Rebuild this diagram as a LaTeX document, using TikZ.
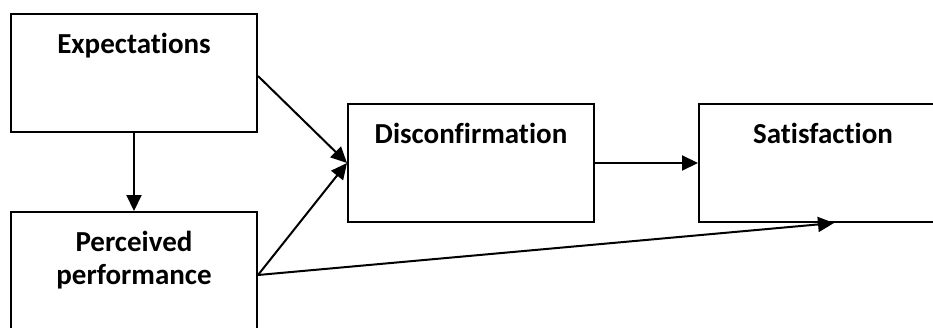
\documentclass[tikz,border=0pt]{standalone}
\usepackage{fontspec}
\setmainfont{Carlito}[Ligatures=NoCommon]
\usetikzlibrary{arrows.meta}
\begin{document}
\begin{tikzpicture}[x=1pt,y=-1pt,
  box/.style={draw=black,line width=2pt,minimum width=246pt,minimum height=118pt,inner sep=0pt,fill=white},
  title/.style={font=\bfseries\fontsize{29}{33}\selectfont,align=center,anchor=base,inner sep=0pt},
  link/.style={draw=black,line width=2pt,-{Triangle[length=16pt,width=15pt]}}]
\useasboundingbox (0,0) rectangle (933,327);
\clip (0,0) rectangle (933,327);
\fill[white] (0,0) rectangle (933,327);
% boxes
\node[box] (E) at (134,73) {};
\node[box] (P) at (134,271) {};
\node[box] (D) at (471,163) {};
\node[box] (S) at (822,163) {};
% titles
\node[title] (Et) at (134,53) {Expectations};
\node[title] (Pt) at (134,284) {Perceived\\performance};
\node[title] (Dt) at (471,143) {Disconfirmation};
\node[title] (St) at (823,143) {Satisfaction};
% connectors
\draw[link] ([yshift=-3pt]E.east) -- (D.west);
\draw[link] (E.south) -- (P.north);
\draw[link] ([yshift=-4pt]P.east) -- (D.west);
\draw[link] (D.east) -- (S.west);
\draw[link] ([yshift=-4pt]P.east) -- ([xshift=12pt]S.south);
\end{tikzpicture}
\end{document}
